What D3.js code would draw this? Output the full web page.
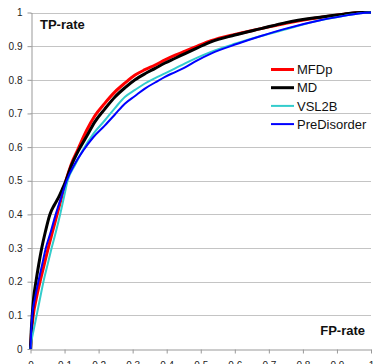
<!DOCTYPE html>
<html>
<head>
<meta charset="utf-8">
<script src="https://cdn.jsdelivr.net/npm/d3@7"></script>
<style>
  body { margin: 0; background: #fff; }
  svg { display: block; font-family: "Liberation Sans", Arial, sans-serif; }
</style>
</head>
<body>
<svg id="chart" width="375" height="364"></svg>
<script>
// ROC curves
const seriesNames = ["MFDp", "MD", "VSL2B", "PreDisorder"];
const seriesColours = ["#ff0000", "#000000", "#33cccc", "#0000ff"];
const seriesWidths = [3, 3, 2, 2];

const mfdpFp = [0, 0.003, 0.008, 0.017, 0.028, 0.04, 0.052, 0.065, 0.078, 0.091, 0.104, 0.12, 0.14, 0.165, 0.189, 0.218, 0.248, 0.277, 0.307, 0.336, 0.366, 0.395, 0.425, 0.454, 0.49, 0.53, 0.6, 0.677, 0.75, 0.85, 0.92, 0.97, 1];
const mfdpTp = [0, 0.05, 0.1, 0.15, 0.2, 0.25, 0.3, 0.35, 0.4, 0.45, 0.5, 0.55, 0.595, 0.65, 0.693, 0.73, 0.764, 0.79, 0.814, 0.83, 0.844, 0.859, 0.873, 0.885, 0.9, 0.916, 0.935, 0.952, 0.968, 0.985, 0.995, 1, 1];

const mdFp = [0, 0.002, 0.005, 0.009, 0.016, 0.024, 0.033, 0.044, 0.057, 0.07, 0.082, 0.093, 0.104, 0.12, 0.14, 0.165, 0.189, 0.218, 0.248, 0.277, 0.307, 0.336, 0.366, 0.395, 0.425, 0.454, 0.49, 0.53, 0.6, 0.677, 0.75, 0.85, 0.92, 0.97, 1];
const mdTp = [0, 0.05, 0.1, 0.15, 0.2, 0.25, 0.3, 0.35, 0.4, 0.428, 0.45, 0.474, 0.5, 0.545, 0.588, 0.632, 0.675, 0.713, 0.749, 0.776, 0.8, 0.818, 0.834, 0.85, 0.864, 0.878, 0.895, 0.913, 0.933, 0.952, 0.97, 0.986, 0.995, 1, 1];

const vslFp = [0, 0.004, 0.008, 0.018, 0.028, 0.038, 0.05, 0.062, 0.075, 0.087, 0.098, 0.109, 0.13, 0.153, 0.185, 0.218, 0.248, 0.277, 0.307, 0.336, 0.366, 0.395, 0.425, 0.454, 0.49, 0.53, 0.6, 0.677, 0.75, 0.85, 0.92, 0.97, 1];
const vslTp = [0, 0.03, 0.05, 0.1, 0.15, 0.2, 0.25, 0.3, 0.35, 0.4, 0.45, 0.5, 0.545, 0.59, 0.64, 0.679, 0.716, 0.749, 0.77, 0.789, 0.805, 0.819, 0.834, 0.849, 0.866, 0.883, 0.907, 0.93, 0.95, 0.977, 0.99, 0.998, 1];

const preFp = [0, 0.002, 0.005, 0.013, 0.023, 0.034, 0.045, 0.06, 0.074, 0.09, 0.106, 0.13, 0.155, 0.185, 0.218, 0.248, 0.277, 0.307, 0.336, 0.366, 0.395, 0.425, 0.454, 0.49, 0.53, 0.608, 0.677, 0.75, 0.851, 0.92, 0.97, 1];
const preTp = [0, 0.05, 0.1, 0.15, 0.2, 0.25, 0.3, 0.35, 0.4, 0.45, 0.5, 0.55, 0.59, 0.63, 0.664, 0.697, 0.729, 0.752, 0.774, 0.792, 0.809, 0.823, 0.837, 0.858, 0.878, 0.907, 0.93, 0.952, 0.977, 0.99, 0.998, 1];

const xTicks = [0, 0.1, 0.2, 0.3, 0.4, 0.5, 0.6, 0.7, 0.8, 0.9, 1];
const yTicks = [0, 0.1, 0.2, 0.3, 0.4, 0.5, 0.6, 0.7, 0.8, 0.9, 1];

const curves = [[mfdpFp, mfdpTp], [mdFp, mdTp], [vslFp, vslTp], [preFp, preTp]]
	.map((c, i) => ({ key: seriesNames[i], values: c[0].map((x, j) => ({ fp: x, tp: c[1][j] })) }));

const svg = d3.select("#chart");

const xScale = d3.scaleLinear().domain([0, 1]).range([30.5, 371]);
const yScale = d3.scaleLinear().domain([0, 1]).range([349, 12.5]);
const colourScale = d3.scaleOrdinal().domain(seriesNames).range(seriesColours);
const widthScale = d3.scaleOrdinal().domain(seriesNames).range(seriesWidths);

// gridlines
svg.append("g")
   .selectAll("line")
   .data(yTicks.filter(d => d > 0))
   .enter()
   .append("line")
   .attr("x1", xScale(0))
   .attr("x2", xScale(1))
   .attr("y1", d => Math.round(yScale(d)) + 0.5)
   .attr("y2", d => Math.round(yScale(d)) + 0.5)
   .attr("stroke", "#c4c4c4")
   .attr("stroke-width", 1);

// axes
const xAxis = svg.append("g")
   .attr("transform", `translate(0,${Math.round(yScale(0)) + 0.5})`)
   .call(d3.axisBottom(xScale).tickValues(xTicks).tickFormat(d3.format("")).tickSize(4).tickSizeOuter(0));

const yAxis = svg.append("g")
   .attr("transform", `translate(${Math.round(xScale(0)) + 0.5},0)`)
   .call(d3.axisLeft(yScale).tickValues(yTicks).tickFormat(d3.format("")).tickSize(4).tickSizeOuter(0));

[xAxis, yAxis].forEach(ax => {
	ax.select(".domain").attr("stroke", "#999");
	ax.selectAll(".tick line").attr("stroke", "#999");
	ax.selectAll(".tick text")
	  .attr("fill", "#222")
	  .style("font-size", "10px")
	  .style("font-family", "'Liberation Sans', Arial, sans-serif");
});
xAxis.selectAll(".tick text").attr("dy", "0.71em").attr("y", 12);
yAxis.selectAll(".tick text").attr("x", -9);

// curves
const line = d3.line().curve(d3.curveMonotoneX).x(d => xScale(d.fp)).y(d => yScale(d.tp));
svg.append("g")
   .selectAll("path")
   .data(curves)
   .enter()
   .append("path")
   .attr("fill", "none")
   .attr("stroke", d => colourScale(d.key))
   .attr("stroke-width", d => widthScale(d.key))
   .attr("stroke-linejoin", "round")
   .attr("d", d => line(d.values));

// axis titles
svg.append("text")
   .attr("x", 40)
   .attr("y", 28.5)
   .attr("font-weight", "bold")
   .style("font-size", "13px")
   .attr("fill", "#111")
   .text("TP-rate");

svg.append("text")
   .attr("x", 365)
   .attr("y", 335)
   .attr("text-anchor", "end")
   .attr("font-weight", "bold")
   .style("font-size", "13px")
   .attr("fill", "#111")
   .text("FP-rate");

// legend
const legend = svg.append("g").attr("transform", "translate(271,69.5)");
seriesNames.forEach((name, i) => {
	legend.append("line")
	      .attr("x1", 0)
	      .attr("x2", 23)
	      .attr("y1", i * 18.2)
	      .attr("y2", i * 18.2)
	      .attr("stroke", colourScale(name))
	      .attr("stroke-width", widthScale(name));
	legend.append("text")
	      .attr("x", 26)
	      .attr("y", i * 18.2)
	      .attr("dy", "0.36em")
	      .style("font-size", "13px")
	      .attr("fill", "#111")
	      .text(name);
});
</script>
</body>
</html>
